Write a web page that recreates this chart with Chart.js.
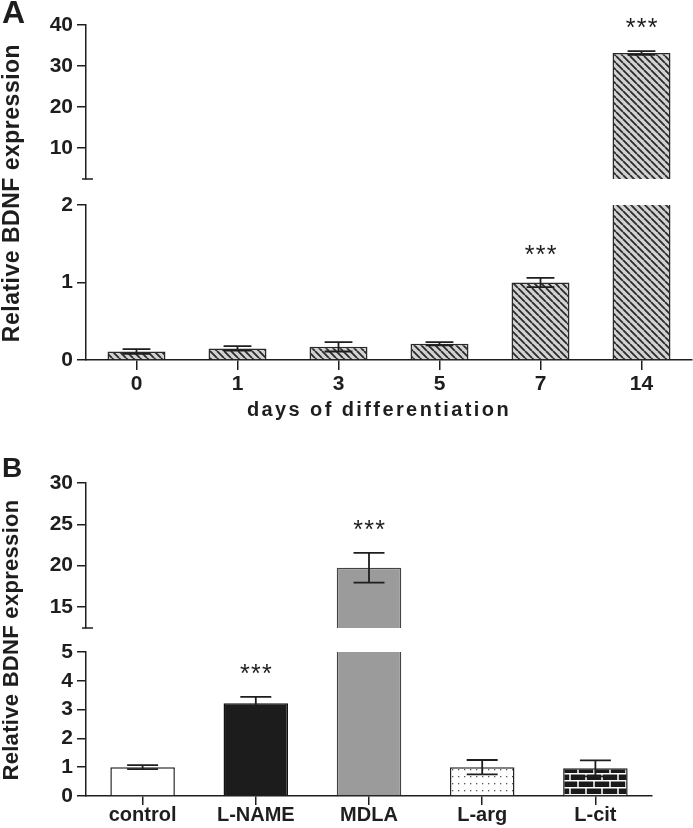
<!DOCTYPE html>
<html>
<head>
<meta charset="utf-8">
<script src="https://cdn.jsdelivr.net/npm/chart.js@4.4.1/dist/chart.umd.min.js"></script>
<style>
  body { margin: 0; background: #fff; }
  #fig { position: relative; width: 693px; height: 828px; overflow: hidden;
         font-family: "Liberation Sans", Arial, sans-serif; color: #1e1e1e; }
  #fig canvas { position: absolute; left: 0; }
  .txt { position: absolute; font-weight: bold; line-height: 1; white-space: nowrap; }
  .ytitle { transform: translate(-50%, -50%) rotate(-90deg); }
</style>
</head>
<body>
<div id="fig">
  <canvas id="aTop" width="693" height="190" style="top:0px"></canvas>
  <canvas id="aBottom" width="693" height="240" style="top:190px"></canvas>
  <canvas id="bTop" width="693" height="200" style="top:440px"></canvas>
  <canvas id="bBottom" width="693" height="188" style="top:640px"></canvas>

  <div class="txt" style="left:2px; top:-4px; font-size:32px">A</div>
  <div class="txt" style="left:2px; top:454px; font-size:28px">B</div>
  <div class="txt ytitle" style="left:11px; top:193px; font-size:23px; letter-spacing:0.5px">Relative BDNF expression</div>
  <div class="txt ytitle" style="left:11px; top:640px; font-size:22px; letter-spacing:0.3px">Relative BDNF expression</div>
  <div class="txt" id="xTitle" style="left:379px; top:399px; font-size:20px; letter-spacing:2.4px; transform:translateX(-50%)">days of differentiation</div>
</div>
<script>
"use strict";

// panel A: BDNF over days of differentiation
const dayLabels = ["0", "1", "3", "5", "7", "14"];
const dayMeans = [0.11, 0.15, 0.17, 0.21, 1.0, 33.2];
const dayErrors = [0.03, 0.03, 0.06, 0.02, 0.06, 0.45];
const daySignif = ["", "", "", "", "***", "***"];
const aTopTicks = [10, 20, 30, 40];
const aBottomTicks = [0, 1, 2];

// panel B: NOS inhibitors / substrates
const treatLabels = ["control", "L-NAME", "MDLA", "L-arg", "L-cit"];
const treatMeans = [1.0, 3.22, 19.75, 1.0, 0.96];
const treatErrors = [0.07, 0.22, 1.8, 0.25, 0.28];
const treatSignif = ["", "***", "***", "", ""];
const bTopTicks = [15, 20, 25, 30];
const bBottomTicks = [0, 1, 2, 3, 4, 5];

const FONT = "'Liberation Sans', Arial, sans-serif";
const INK = "#1e1e1e";
const AXIS_LEFT = 86;

function makeTile(w, h, draw) {
  const c = document.createElement("canvas");
  c.width = w;
  c.height = h;
  const g = c.getContext("2d");
  draw(g, w, h);
  return g.createPattern(c, "repeat");
}

function hatchPattern() {
  return makeTile(7, 7, (g, w, h) => {
    g.fillStyle = "#d2d2d2";
    g.fillRect(0, 0, w, h);
    g.strokeStyle = "#2a2a2a";
    g.lineWidth = 1.8;
    g.beginPath();
    for (const k of [-w, 0, w]) {
      g.moveTo(k, 0);
      g.lineTo(k + w, h);
    }
    g.stroke();
  });
}

function dotPattern() {
  return makeTile(6, 7, (g, w, h) => {
    g.fillStyle = "#ffffff";
    g.fillRect(0, 0, w, h);
    g.fillStyle = "#555";
    g.fillRect(2, 3, 1.3, 1.3);
  });
}

function brickPattern() {
  return makeTile(16, 14, (g, w, h) => {
    g.fillStyle = "#1a1a1a";
    g.fillRect(0, 0, w, h);
    g.strokeStyle = "#ffffff";
    g.lineWidth = 1.5;
    g.beginPath();
    g.moveTo(0, 0.75); g.lineTo(w, 0.75);
    g.moveTo(0, 7.75); g.lineTo(w, 7.75);
    g.moveTo(2, 0); g.lineTo(2, 7);
    g.moveTo(10, 7); g.lineTo(10, 14);
    g.stroke();
  });
}

const errorBarPlugin = {
  id: "errorBars",
  afterDatasetsDraw(chart, args, opts) {
    const { ctx, chartArea } = chart;
    const y = chart.scales.y;
    const meta = chart.getDatasetMeta(0);
    ctx.save();
    ctx.strokeStyle = INK;
    ctx.fillStyle = INK;
    ctx.lineWidth = 1.8;
    opts.means.forEach((m, i) => {
      if (m < y.min || m > y.max) return;
      const bar = meta.data[i];
      const cx = bar.x;
      const half = bar.width * 0.24;
      const top = y.getPixelForValue(m + opts.errors[i]);
      const bot = y.getPixelForValue(Math.max(m - opts.errors[i], y.min));
      ctx.beginPath();
      ctx.moveTo(cx, top); ctx.lineTo(cx, bot);
      ctx.moveTo(cx - half, top); ctx.lineTo(cx + half, top);
      ctx.moveTo(cx - half, bot); ctx.lineTo(cx + half, bot);
      ctx.stroke();
      if (opts.signif[i]) {
        ctx.font = "25px " + FONT;
        ctx.textAlign = "center";
        ctx.textBaseline = "alphabetic";
        const sy = top - 27 + 12;
        [-11, 0, 11].forEach((dx) => ctx.fillText("*", cx + dx, sy));
      }
    });
    if (opts.breakCap) {
      ctx.lineWidth = 1.5;
      ctx.beginPath();
      ctx.moveTo(chartArea.left - 4, chartArea.bottom);
      ctx.lineTo(chartArea.left + 7, chartArea.bottom);
      ctx.stroke();
    }
    ctx.restore();
  }
};

function buildPanel(id, cfg) {
  return new Chart(document.getElementById(id), {
    type: "bar",
    data: {
      labels: cfg.labels,
      datasets: [{
        data: cfg.means,
        backgroundColor: cfg.fills,
        borderColor: cfg.borders,
        borderWidth: 1.5,
        borderSkipped: "start",
        categoryPercentage: 1,
        barPercentage: cfg.barPct,
        clip: 0
      }]
    },
    options: {
      responsive: false,
      animation: false,
      events: [],
      layout: { padding: cfg.padding },
      scales: {
        x: {
          display: cfg.showX,
          afterFit: (s) => { s.height = cfg.xHeight || 0; s.paddingLeft = 0; s.paddingRight = 0; },
          grid: { offset: false, drawOnChartArea: false, drawTicks: true, tickLength: cfg.xTickLen, tickColor: INK, lineWidth: 1.5 },
          border: { display: true, color: INK, width: 1.5 },
          ticks: { color: INK, padding: cfg.xPad, maxRotation: 0, autoSkip: false, font: { family: FONT, size: cfg.xFont, weight: "bold" } }
        },
        y: {
          min: cfg.min,
          max: cfg.max,
          afterBuildTicks: (s) => { s.ticks = cfg.ticks.map((v) => ({ value: v })); },
          afterFit: (s) => { s.width = AXIS_LEFT; s.paddingTop = 0; s.paddingBottom = 0; },
          grid: { drawOnChartArea: false, drawTicks: true, tickLength: 9, tickColor: INK, lineWidth: 1.5 },
          border: { display: true, color: INK, width: 1.5 },
          ticks: { color: INK, padding: 4, autoSkip: false, font: { family: FONT, size: 21, weight: "bold" } }
        }
      },
      plugins: {
        legend: { display: false },
        tooltip: { enabled: false },
        errorBars: { means: cfg.means, errors: cfg.errors, signif: cfg.signif, breakCap: cfg.breakCap }
      }
    },
    plugins: [errorBarPlugin]
  });
}

const hatch = hatchPattern();
const dayFills = dayLabels.map(() => hatch);
const dayBorders = dayLabels.map(() => "#2a2a2a");
const treatFills = ["#ffffff", "#1c1c1c", "#9b9b9b", dotPattern(), brickPattern()];
const treatBorders = ["#222", "#111", "#444", "#222", "#222"];

const panelA = { labels: dayLabels, means: dayMeans, errors: dayErrors, signif: daySignif,
  fills: dayFills, borders: dayBorders, barPct: 0.574, xFont: 21, xPad: 2, xTickLen: 10 };
const panelB = { labels: treatLabels, means: treatMeans, errors: treatErrors, signif: treatSignif,
  fills: treatFills, borders: treatBorders, barPct: 0.57, xFont: 20, xPad: -2, xTickLen: 9 };

buildPanel("aTop", Object.assign({}, panelA, {
  min: 2.44, max: 40, ticks: aTopTicks, showX: false, breakCap: true,
  padding: { top: 25, bottom: 11, left: 0, right: 1 }
}));
buildPanel("aBottom", Object.assign({}, panelA, {
  min: 0, max: 2, ticks: aBottomTicks, showX: true, xHeight: 70,
  padding: { top: 15, bottom: 0, left: 0, right: 1 }
}));
buildPanel("bTop", Object.assign({}, panelB, {
  min: 12.46, max: 30, ticks: bTopTicks, showX: false, breakCap: true,
  padding: { top: 43, bottom: 12, left: 0, right: 41 }
}));
buildPanel("bBottom", Object.assign({}, panelB, {
  min: 0, max: 5, ticks: bBottomTicks, showX: true, xHeight: 32,
  padding: { top: 12, bottom: 0, left: 0, right: 41 }
}));
</script>
</body>
</html>
